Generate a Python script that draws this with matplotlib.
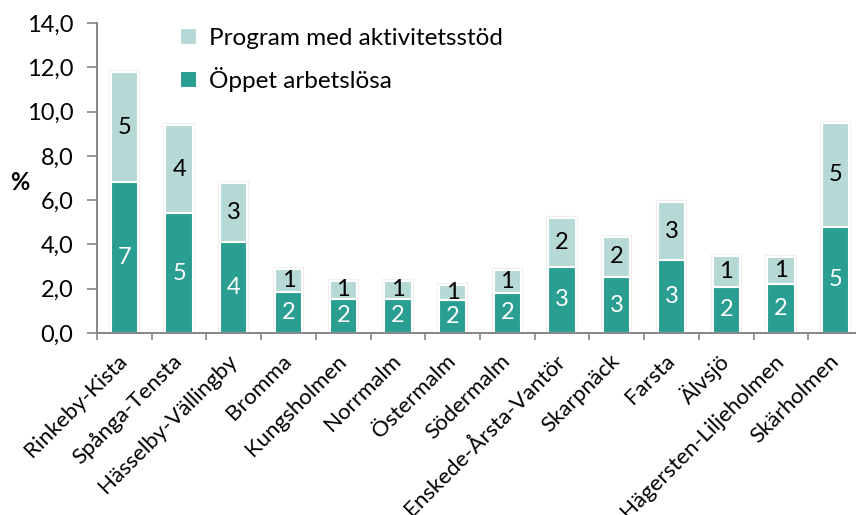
import matplotlib.pyplot as plt
import numpy as np

plt.rcParams["font.family"] = ["Lato", "DejaVu Sans"]

districts = ["Rinkeby-Kista", "Spånga-Tensta", "Hässelby-Vällingby", "Bromma", "Kungsholmen",
             "Norrmalm", "Östermalm", "Södermalm", "Enskede-Årsta-Vantör", "Skarpnäck",
             "Farsta", "Älvsjö", "Hägersten-Liljeholmen", "Skärholmen"]
oppet = [6.8, 5.4, 4.1, 1.85, 1.55, 1.55, 1.5, 1.82, 3.0, 2.52, 3.3, 2.1, 2.2, 4.8]
program = [5.0, 4.0, 2.68, 1.05, 0.81, 0.81, 0.67, 1.01, 2.2, 1.83, 2.6, 1.39, 1.25, 4.69]

dark = "#299e91"
light = "#b6d9d5"
grey = "#868686"

fig = plt.figure(figsize=(8.56, 5.15), dpi=100)
ax = fig.add_axes([97 / 856, (515 - 333) / 515, 766 / 856, 310 / 515])

x = np.arange(len(districts))
totals = np.array(oppet) + np.array(program)
# faint shadow around the bars
ax.bar(x, totals, width=0.5, color="none", edgecolor="#f0f0f0", linewidth=3, zorder=1)
b1 = ax.bar(x, oppet, width=0.5, color=dark, edgecolor="white", linewidth=1.5,
            label="Öppet arbetslösa", zorder=2)
b2 = ax.bar(x, program, width=0.5, bottom=oppet, color=light, edgecolor="white", linewidth=1.5,
            label="Program med aktivitetsstöd", zorder=2)

for i in range(len(districts)):
    ax.text(x[i], oppet[i] / 2, str(int(oppet[i] + 0.5)), ha="center", va="center",
            color="white", fontsize=17, zorder=3)
    ax.text(x[i], oppet[i] + program[i] / 2, str(int(program[i] + 0.5)), ha="center",
            va="center", color="black", fontsize=17, zorder=3)

ax.set_xlim(-0.5, len(districts) - 0.5)
ax.set_ylim(0, 14)
ax.set_yticks(np.arange(0, 15, 2))
ax.set_yticklabels([f"{v:.1f}".replace(".", ",") for v in np.arange(0, 15, 2)], fontsize=17)
ax.tick_params(axis="y", length=7, color=grey, width=1.2, pad=10)

ax.set_xticks(x)
ax.set_xticklabels(districts, rotation=45, ha="right", va="center", rotation_mode="anchor",
                   fontsize=16)
ax.tick_params(axis="x", length=0, pad=18)
ax.set_xticks(np.arange(-0.5, len(districts), 1), minor=True)
ax.tick_params(axis="x", which="minor", length=5, color=grey, width=1.2)

for s in ["top", "right"]:
    ax.spines[s].set_visible(False)
for s in ["left", "bottom"]:
    ax.spines[s].set_color(grey)
    ax.spines[s].set_linewidth(1.4)

fig.text(20 / 856, 1 - 182 / 515, "%", fontsize=17, fontweight="bold", ha="center", va="center")

ax.legend([b2, b1], ["Program med aktivitetsstöd", "Öppet arbetslösa"],
          loc="upper left", bbox_to_anchor=(158 / 856, 1 - 6 / 515),
          bbox_transform=fig.transFigure, frameon=False, fontsize=17.5,
          handlelength=0.7, handleheight=0.7, handletextpad=0.5, labelspacing=0.75)

fig.savefig("out.png", dpi=100)
